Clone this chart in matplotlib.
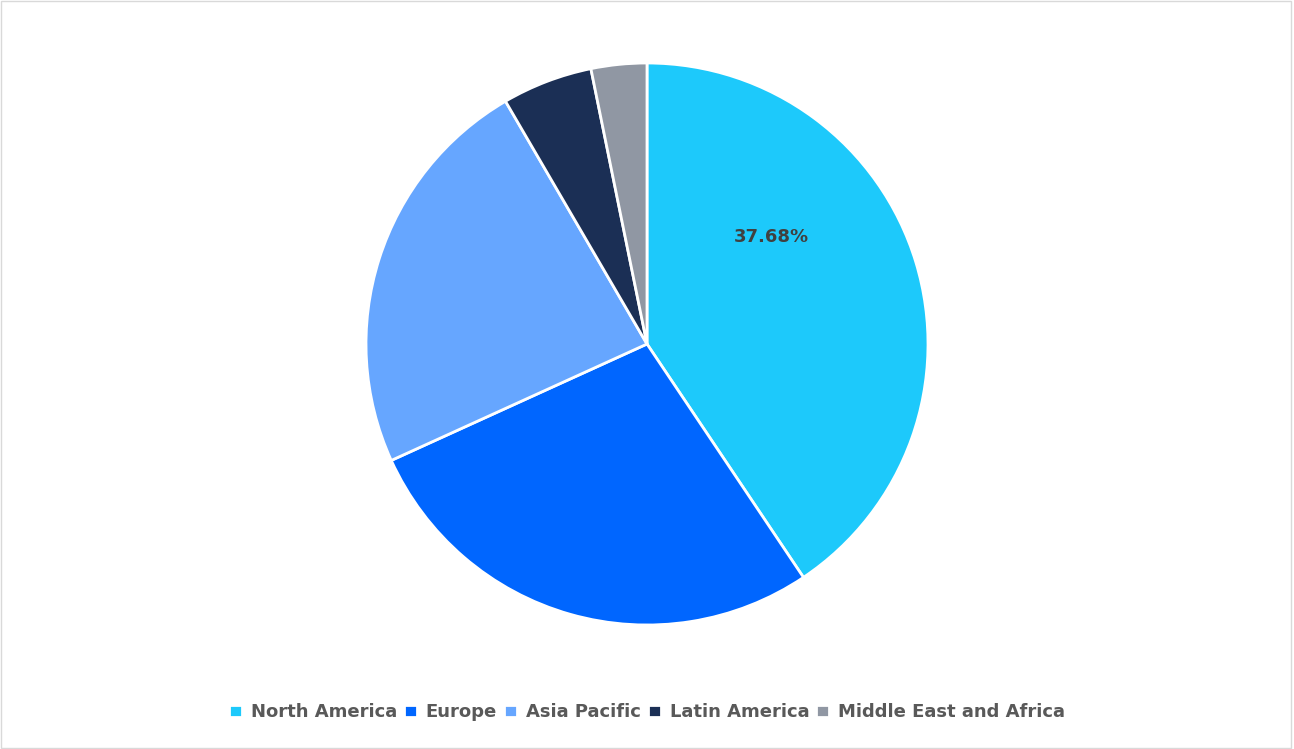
import matplotlib.pyplot as plt
from matplotlib.patches import Rectangle

categories = ["North America", "Europe", "Asia Pacific", "Latin America", "Middle East and Africa"]
values = [40.6, 27.6, 23.4, 5.2, 3.2]
shown_label = "37.68%"
colors = ["#1DC9FB", "#0066FF", "#66A6FF", "#1B2F55", "#9097A3"]

fig = plt.figure(figsize=(12.94, 7.49), dpi=100)
fig.patches.append(Rectangle((0.001, 0.002), 0.997, 0.996, transform=fig.transFigure,
                             fill=False, edgecolor="#D9D9D9", linewidth=1))
ax = fig.add_axes([0, 0, 1, 1])

wedges, _ = ax.pie(values, colors=colors, startangle=90, counterclock=False,
                   center=(647, 405), radius=281, frame=True,
                   wedgeprops=dict(edgecolor="white", linewidth=2))
ax.set_xlim(0, 1294); ax.set_ylim(0, 749)
ax.set_aspect("equal"); ax.axis("off")
ax.text(771, 512, shown_label, ha="center", va="center", fontsize=13,
        fontweight="bold", color="#404040")

leg = fig.legend(wedges, categories, loc="center", bbox_to_anchor=(0.5, 0.049), ncol=5,
                 frameon=False, handlelength=0.7, handleheight=0.7, handletextpad=0.5,
                 columnspacing=0.4, prop=dict(size=13, weight="bold"))
for t in leg.get_texts():
    t.set_color("#595959")
fig.savefig("out.png", dpi=100)
